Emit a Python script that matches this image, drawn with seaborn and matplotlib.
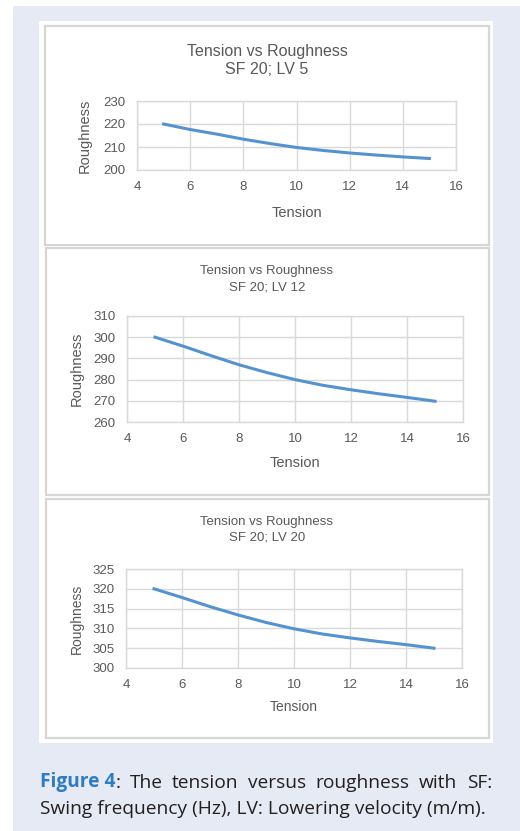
import matplotlib
matplotlib.use('Agg')
import matplotlib.pyplot as plt
from matplotlib.patches import Rectangle
import seaborn as sns
import pandas as pd

# values (tension 5..15)
tension = [5, 6, 7, 8, 9, 10, 11, 12, 13, 14, 15]
rough_lv5 = [220, 217.6, 215.6, 213.4, 211.5, 209.8, 208.5, 207.4, 206.5, 205.7, 205]
rough_lv12 = [300, 295.8, 291.3, 287, 283.3, 280, 277.3, 275.2, 273.3, 271.6, 269.8]
rough_lv20 = [320, 317.8, 315.5, 313.4, 311.5, 309.9, 308.6, 307.6, 306.7, 305.9, 305]

subtitles = ['SF 20; LV 5', 'SF 20; LV 12', 'SF 20; LV 20']
x_ticks = [4, 6, 8, 10, 12, 14, 16]
y_ticks_lv5 = [200, 210, 220, 230]
y_ticks_lv12 = [260, 270, 280, 290, 300, 310]
y_ticks_lv20 = [300, 305, 310, 315, 320, 325]

caption_head = 'Figure 4'
caption_line1 = ': The tension versus roughness with SF:'
caption_line2 = 'Swing frequency (Hz), LV: Lowering velocity (m/m).'

W, H = 520, 831
fig = plt.figure(figsize=(5.2, 8.31), dpi=100)
fig.patch.set_facecolor('white')


def box(x0, y0, x1, y1):
    return [x0 / W, 1 - y1 / H, (x1 - x0) / W, (y1 - y0) / H]


def rect(x0, y0, x1, y1, fc, ec='none', lw=0):
    b = box(x0, y0, x1, y1)
    fig.patches.append(Rectangle((b[0], b[1]), b[2], b[3], transform=fig.transFigure,
                                 facecolor=fc, edgecolor=ec, linewidth=lw, zorder=-5))


# page background
rect(13, 6, 520, 831, '#e6eaf5')
rect(39, 21, 493, 743, 'white')
# chart panels
rect(45, 26, 489, 245, 'white', '#d6d6d6', 1.6)
rect(46, 248, 489, 495, 'white', '#d6d6d6', 1.6)
rect(46, 499, 489, 738, 'white', '#d6d6d6', 1.6)

gray = '#595959'
blue = '#5593d0'
font = ['Liberation Sans', 'DejaVu Sans']

panels = [
    dict(y=rough_lv5, yt=y_ticks_lv5, pos=(137, 101, 456, 170), t1=51.5, t2=70, tfs=11.5,
         lfs=10.5, tfsz=9.5, xl=213, yl=85, sub=subtitles[0]),
    dict(y=rough_lv12, yt=y_ticks_lv12, pos=(127, 316, 463, 422), t1=271, t2=287, tfs=9.5,
         lfs=10.5, tfsz=9.5, xl=463, yl=77, sub=subtitles[1]),
    dict(y=rough_lv20, yt=y_ticks_lv20, pos=(126, 569, 462, 668), t1=522, t2=538, tfs=9.5,
         lfs=10, tfsz=9.5, xl=707, yl=77, sub=subtitles[2]),
]

for p in panels:
    x0, y0, x1, y1 = p['pos']
    ax = fig.add_axes(box(x0, y0, x1, y1))
    ax.set_zorder(2)
    ax.set_facecolor('white')
    df = pd.DataFrame({'Tension': tension, 'Roughness': p['y']})
    sns.lineplot(data=df, x='Tension', y='Roughness', ax=ax, color=blue, linewidth=2.2)
    ax.set_xlim(x_ticks[0], x_ticks[-1])
    ax.set_ylim(p['yt'][0], p['yt'][-1])
    ax.set_xticks(x_ticks)
    ax.set_yticks(p['yt'])
    ax.grid(True, color='#d9d9d9', linewidth=1)
    ax.set_axisbelow(True)
    for s in ax.spines.values():
        s.set_color('#d9d9d9')
        s.set_linewidth(1)
    ax.tick_params(length=0, labelsize=p['tfsz'], labelcolor=gray, pad=8)
    for lab in ax.get_xticklabels() + ax.get_yticklabels():
        lab.set_family(font)
    ax.set_xlabel('')
    ax.set_ylabel('')
    cx = (x0 + x1) / 2
    cy = (y0 + y1) / 2
    fig.text(cx / W, 1 - p['xl'] / H, 'Tension', ha='center', va='center',
             fontsize=p['lfs'], color=gray, family=font)
    fig.text(p['yl'] / W, 1 - cy / H, 'Roughness', ha='center', va='center', rotation=90,
             fontsize=p['lfs'], color=gray, family=font)
    fig.text(267 / W, 1 - p['t1'] / H, 'Tension vs Roughness', ha='center', va='center',
             fontsize=p['tfs'], color=gray, family=font)
    fig.text(267 / W, 1 - p['t2'] / H, p['sub'], ha='center', va='center',
             fontsize=p['tfs'], color=gray, family=font)

# caption: fit line 2 to its width, justify line 1 between 40 and 492 px
cap_font = ['Open Sans', 'DejaVu Sans']
renderer = fig.canvas.get_renderer()


def width_px(t):
    return t.get_window_extent(renderer).width


cap_fs = 12
probe = fig.text(0, 0, caption_line2, fontsize=cap_fs, family=cap_font)
cap_fs = cap_fs * 443 / width_px(probe)
probe.remove()

base1 = 1 - 787.5 / H
base2 = 1 - 814.5 / H
head = fig.text(40 / W, base1, caption_head, ha='left', va='baseline', fontsize=cap_fs,
                color='#2f7cc1', fontweight='bold', family=cap_font)
x = 40 + width_px(head)
words = caption_line1.split(' ')
colon = fig.text(x / W, base1, words[0], ha='left', va='baseline', fontsize=cap_fs,
                 color='#231f20', family=cap_font)
x += width_px(colon)
rest = []
for w in words[1:]:
    rest.append(fig.text(0, base1, w, ha='left', va='baseline', fontsize=cap_fs,
                         color='#231f20', family=cap_font))
total = sum(width_px(t) for t in rest)
gap = (492 - x - total) / len(rest)
for t in rest:
    x += gap
    t.set_x(x / W)
    x += width_px(t)
fig.text(40 / W, base2, caption_line2, ha='left', va='baseline', fontsize=cap_fs,
         color='#231f20', family=cap_font)

fig.savefig('out.png', dpi=100)
